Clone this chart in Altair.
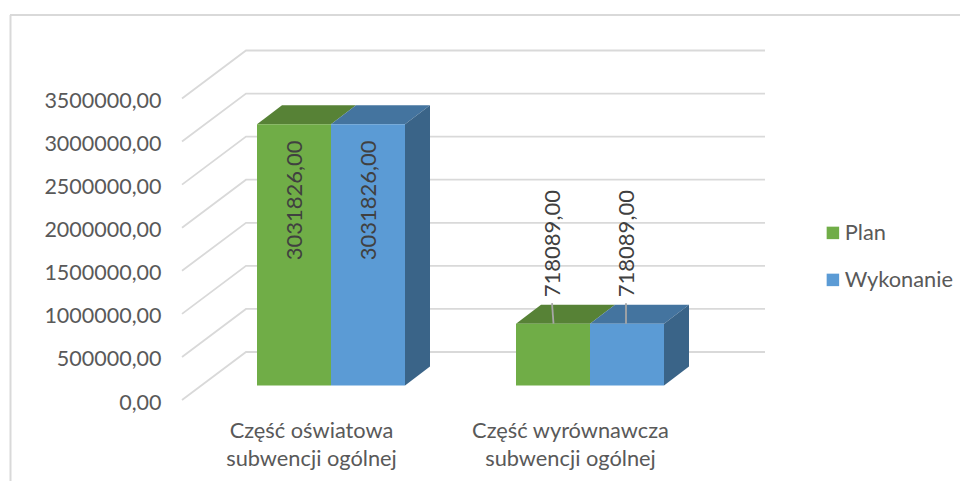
import altair as alt
import pandas as pd

# ---- data ----
categories = ["Część oświatowa\nsubwencji ogólnej", "Część wyrównawcza\nsubwencji ogólnej"]
series = ["Plan", "Wykonanie"]
plan = [3031826.0, 718089.0]
wykonanie = [3031826.0, 718089.0]
ticks = [0, 500000, 1000000, 1500000, 2000000, 2500000, 3000000, 3500000]

front_colors = ["#70AD47", "#5B9BD5"]
top_colors = ["#578236", "#44749F"]
side_color = "#3A6488"
grid_color = "#D9D9D9"
text_color = "#595959"
font = "Lato"

# ---- layout (pixels inside the plot area) ----
W, H = 952, 473
CAT_STEP = 259.0
X0 = 323.0            # centre of first category's front face
BASE = 392.0          # pixel of value 0 on the front-left floor edge
K = 43.07 / 500000    # pixels per unit of value
BAR_W = 74.0 / CAT_STEP
px_x = lambda p: p / CAT_STEP
px_v = lambda p: p / K

x_scale = alt.Scale(domain=[-X0 / CAT_STEP, (W - X0) / CAT_STEP], range=[0, W], nice=False, zero=False)
y_scale = alt.Scale(domain=[(BASE - H) / K, BASE / K], range=[H, 0], nice=False, zero=False)

BAR_LIFT = px_v(14.5)     # bar front base above the floor's front edge
DEPTH_DX = px_x(25)
DEPTH_DV = px_v(19)
WALL_LEFT = px_x(174) + (-X0 / CAT_STEP)
WALL_BACK = px_x(238) + (-X0 / CAT_STEP)
WALL_RIGHT = px_x(757) + (-X0 / CAT_STEP)
WALL_DV = px_v(48)

y_axis = alt.Axis(
    values=ticks, title=None, domain=False, ticks=False, grid=False, orient="left",
    offset=-153, labelPadding=0, labelFont=font, labelFontSize=21.5, labelColor=text_color,
    labelOverlap=False, labelFlush=False, labelOffset=3,
    labelExpr="replace(format(datum.value, '.2f'), '.', ',')")

X = lambda f: alt.X(f, type="quantitative", scale=x_scale, axis=None)
Y = lambda f: alt.Y(f, type="quantitative", scale=y_scale, axis=y_axis)

# grid walls
grid_rows = []
for t in ticks:
    grid_rows += [
        {"tick": t, "x": WALL_LEFT, "v": t},
        {"tick": t, "x": WALL_BACK, "v": t + WALL_DV},
        {"tick": t, "x": WALL_RIGHT, "v": t + WALL_DV},
    ]
grid = alt.Chart(pd.DataFrame(grid_rows)).mark_line(color=grid_color, strokeWidth=1.8).encode(
    x=X("x"), y=Y("v"), detail="tick:N",
)

# bars
bars, tops, sides = [], [], []
for i, cat in enumerate(categories):
    for j, (name, vals) in enumerate(zip(series, [plan, wykonanie])):
        left = i + (j - 1) * BAR_W
        right = left + BAR_W
        val = vals[i]
        bars.append({"series": name, "x": left, "x2": right, "v": BAR_LIFT, "v2": BAR_LIFT + val})
        tops += [
            {"id": f"{i}{j}", "series": name, "x": left, "x2": right, "v": BAR_LIFT + val},
            {"id": f"{i}{j}", "series": name, "x": left + DEPTH_DX, "x2": right + DEPTH_DX,
             "v": BAR_LIFT + val + DEPTH_DV},
        ]
    right = i + BAR_W
    val = wykonanie[i]
    sides += [
        {"id": i, "x": right, "v": BAR_LIFT, "v2": BAR_LIFT + val},
        {"id": i, "x": right + DEPTH_DX, "v": BAR_LIFT + DEPTH_DV, "v2": BAR_LIFT + DEPTH_DV + val},
    ]

top_layer = alt.Chart(pd.DataFrame(tops)).mark_area(orient="horizontal").encode(
    y=Y("v"), x=X("x"), x2="x2:Q",
    fill=alt.Fill("series:N", scale=alt.Scale(domain=series, range=top_colors), legend=None),
    detail="id:N",
)
side_layer = alt.Chart(pd.DataFrame(sides)).mark_area(color=side_color).encode(
    x=X("x"), y=Y("v"), y2="v2:Q", detail="id:N",
)
front_layer = alt.Chart(pd.DataFrame(bars)).mark_rect().encode(
    x=X("x"), x2="x2:Q", y=Y("v"), y2="v2:Q",
    color=alt.Color("series:N", scale=alt.Scale(domain=series, range=front_colors),
                    legend=alt.Legend(orient="none", legendX=814, legendY=214, title=None,
                                      symbolType="square", symbolSize=156, symbolStrokeWidth=0,
                                      labelFont=font, labelFontSize=21.8, labelColor=text_color,
                                      labelOffset=1, rowPadding=24, labelLimit=200)),
)

# data labels
LABEL_SHIFT = [-76.0, 80.0]   # px above (+) / below (-) the front top edge
labels, leaders = [], []
for i in range(len(categories)):
    for j, vals in enumerate([plan, wykonanie]):
        cx = i + (j - 0.5) * BAR_W
        val = vals[i]
        top = BAR_LIFT + val
        labels.append({"x": cx + px_x(1 if i == 0 else -0.5),
                       "v": top + px_v(LABEL_SHIFT[i]),
                       "t": f"{val:.2f}".replace(".", ",")})
        if i == 1:
            leaders.append({"id": j, "x": cx - px_x(1), "v": top + px_v(20.5)})
            leaders.append({"id": j, "x": cx + px_x(0.5 if j == 0 else -1), "v": top})

label_layer = alt.Chart(pd.DataFrame(labels)).mark_text(
    angle=270, align="center", baseline="middle", font=font, fontSize=22, color="#404040"
).encode(x=X("x"), y=Y("v"), text="t:N")

leader_layer = alt.Chart(pd.DataFrame(leaders)).mark_line(color="#A6A6A6", strokeWidth=1.8).encode(
    x=X("x"), y=Y("v"), detail="id:N", order="v:Q"
)

# category labels
cat_df = pd.DataFrame({
    "x": [i - px_x(19.5) for i in range(len(categories))],
    "v": [-px_v(423 - BASE)] * len(categories),
    "t": categories,
})
cat_layer = alt.Chart(cat_df).mark_text(
    align="center", baseline="middle", lineBreak="\n", lineHeight=28,
    font=font, fontSize=21.8, color=text_color
).encode(x=X("x"), y=Y("v"), text="t:N")

# outer frame (decoration)
frame_top = alt.Chart(pd.DataFrame({"a": [0]})).mark_rule(color=grid_color, strokeWidth=2).encode(
    x=alt.value(2), x2=alt.value(W), y=alt.value(7))
frame_left = alt.Chart(pd.DataFrame({"a": [0]})).mark_rule(color=grid_color, strokeWidth=2).encode(
    x=alt.value(2.5), y=alt.value(7), y2=alt.value(H))

chart = alt.layer(
    frame_top, frame_left, grid, top_layer, side_layer, front_layer, leader_layer, label_layer, cat_layer
).resolve_scale(color="independent", fill="independent").properties(
    width=W, height=H, padding=0, autosize=alt.AutoSizeParams(type="none"), background="white"
).configure_view(stroke=None)

chart.save("out.html", embed_options={"renderer": "svg", "actions": False})
